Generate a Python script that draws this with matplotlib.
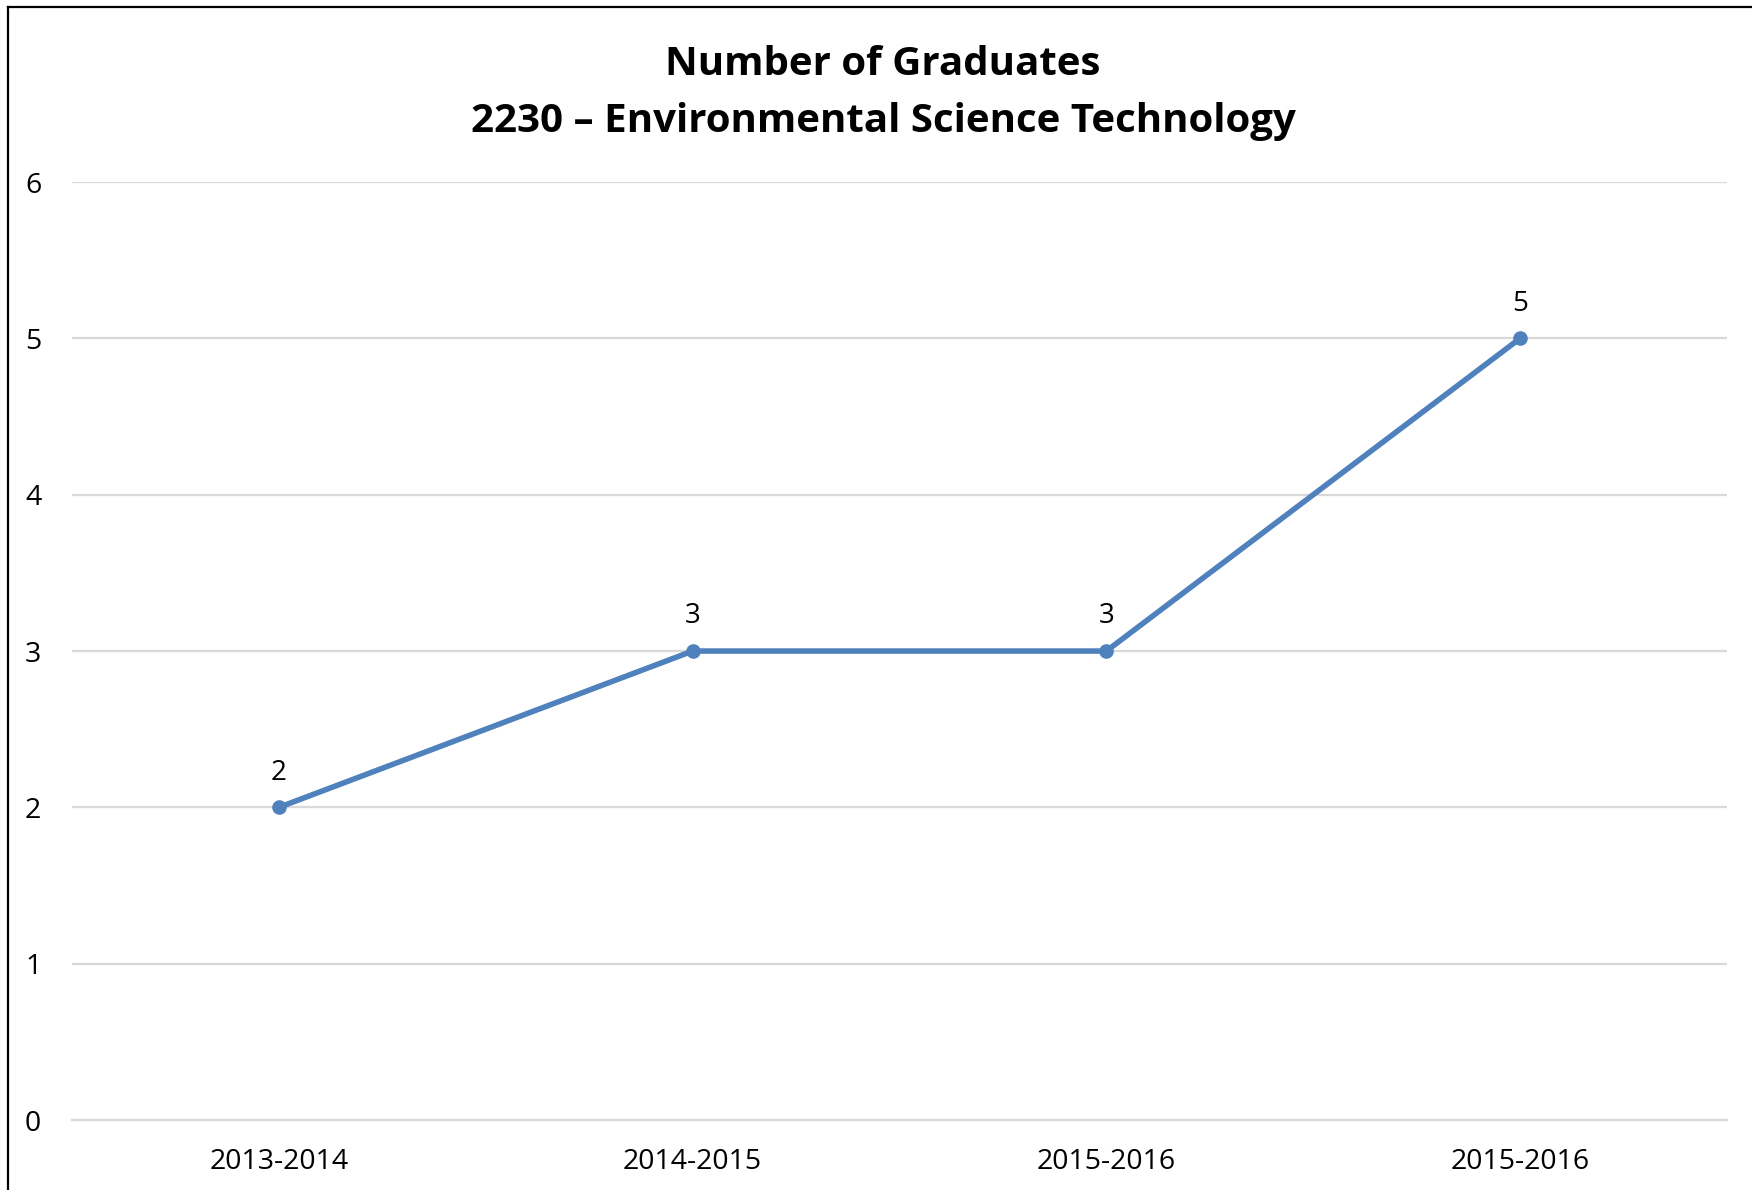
import matplotlib
matplotlib.use("Agg")
import matplotlib.pyplot as plt
from matplotlib.lines import Line2D

plt.rcParams['font.family'] = ['Open Sans', 'DejaVu Sans']

# Data
years = ['2013-2014', '2014-2015', '2015-2016', '2015-2016']
graduates = [2, 3, 3, 5]

fig = plt.figure(figsize=(17.52, 11.90), dpi=100)
ax = fig.add_axes([0.0411, 0.0588, 0.9446, 0.7882])

x = range(len(years))
ax.plot(x, graduates, color='#4F81BD', linewidth=4.0, marker='o',
        markersize=9.5, solid_capstyle='round', zorder=3)

for xi, v in zip(x, graduates):
    ax.annotate(str(v), (xi, v), xytext=(0, 15), textcoords='offset points',
                ha='center', va='bottom', fontsize=20, color='black')

ax.set_xlim(-0.5, len(years) - 0.5)
ax.set_ylim(0, 6)
ax.set_yticks(range(0, 7))
ax.set_xticks(list(x))
ax.set_xticklabels(years)
ax.tick_params(axis='both', length=0, labelsize=20.5, colors='black')
ax.tick_params(axis='x', pad=20)
for lbl in ax.get_yticklabels():
    lbl.set_horizontalalignment('center')
ax.yaxis.set_tick_params(pad=28)

ax.grid(axis='y', color='#D9D9D9', linewidth=1.6)
ax.set_axisbelow(True)
for s in ['top', 'right', 'left']:
    ax.spines[s].set_visible(False)
ax.spines['bottom'].set_color('#D9D9D9')
ax.spines['bottom'].set_linewidth(1.6)

fig.text(0.504, 0.946, 'Number of Graduates', ha='center', va='center',
         fontsize=29, fontweight='bold')
fig.text(0.504, 0.898, '2230 \u2013 Environmental Science Technology',
         ha='center', va='center', fontsize=29, fontweight='bold')

# chart area border (left and top edges visible)
fig.add_artist(Line2D([0.0048, 0.0048], [0, 0.9940], transform=fig.transFigure,
                      color='black', linewidth=1.6))
fig.add_artist(Line2D([0.0048, 1.0], [0.9940, 0.9940], transform=fig.transFigure,
                      color='black', linewidth=1.6))

fig.savefig('out.png', dpi=100)
